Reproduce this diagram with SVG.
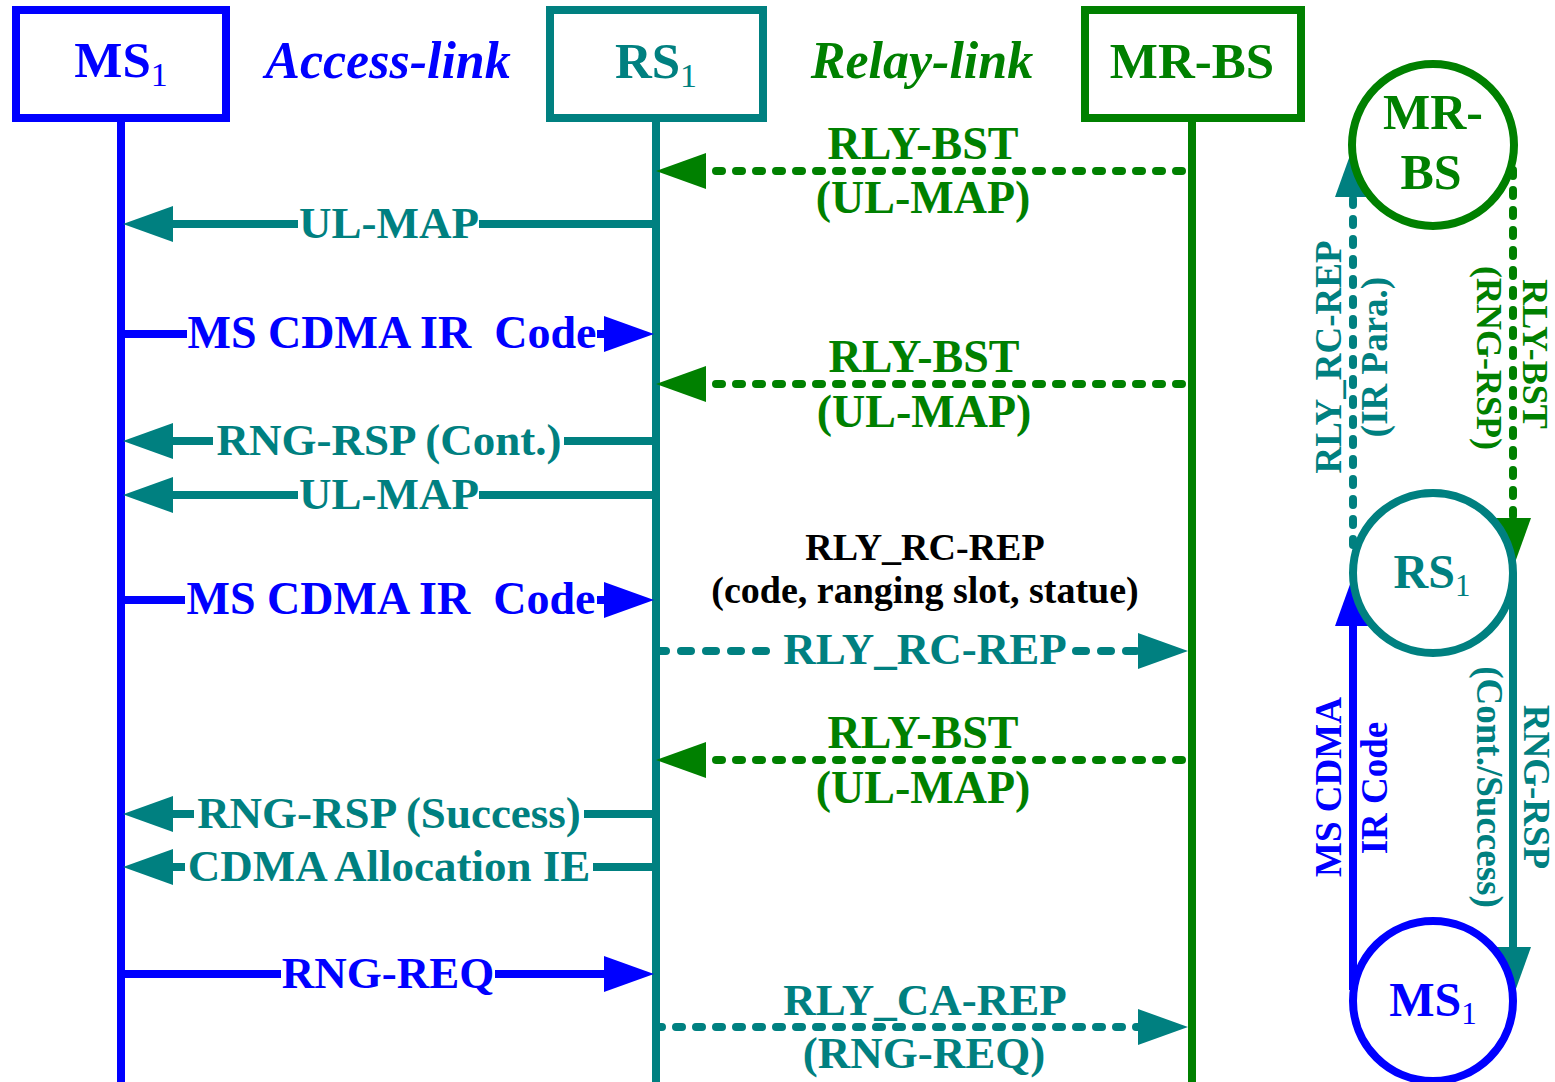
<svg xmlns="http://www.w3.org/2000/svg" width="1555" height="1082" viewBox="0 0 1555 1082">
<style>
text{font-family:"Liberation Serif","Times New Roman",serif;font-weight:bold;text-anchor:middle}
.b{fill:#0000FF}.t{fill:#008080}.g{fill:#008000}.k{fill:#000}
.reg{font-weight:normal}
.box{fill:#fff;stroke-width:8}
.life{stroke-width:8;fill:none}
.sb{stroke:#0000FF}.st{stroke:#008080}.sg{stroke:#008000}
.ln{stroke-width:8;fill:none}
.dot{stroke-width:8;fill:none;stroke-linecap:round;stroke-dasharray:6 14}
.dot2{stroke-width:8;fill:none;stroke-linecap:round;stroke-dasharray:10 15}
.circ{fill:#fff;stroke-width:8}
</style>
<defs>
<marker id="ab" viewBox="0 0 50 36" refX="0" refY="18" markerWidth="50" markerHeight="36" markerUnits="userSpaceOnUse" orient="auto"><path d="M0,0 L50,18 L0,36 z" fill="#0000FF"/></marker>
<marker id="at" viewBox="0 0 50 36" refX="0" refY="18" markerWidth="50" markerHeight="36" markerUnits="userSpaceOnUse" orient="auto"><path d="M0,0 L50,18 L0,36 z" fill="#008080"/></marker>
<marker id="ag" viewBox="0 0 50 36" refX="0" refY="18" markerWidth="50" markerHeight="36" markerUnits="userSpaceOnUse" orient="auto"><path d="M0,0 L50,18 L0,36 z" fill="#008000"/></marker>
</defs>

<g id="lifelines">
<line class="life sb" x1="121" y1="120" x2="121" y2="1082"/>
<line class="life st" x1="656" y1="120" x2="656" y2="1082"/>
<line class="life sg" x1="1192" y1="120" x2="1192" y2="1082"/>
</g>

<g id="node-ms1">
<rect class="box sb" x="16" y="10" width="210" height="108"/>
<text class="b" x="121" y="77" font-size="51">MS<tspan class="reg" font-size="34" dy="9">1</tspan></text>
</g>
<g id="node-rs1">
<rect class="box st" x="550" y="10" width="213" height="108"/>
<text class="t" x="656" y="78" font-size="51">RS<tspan class="reg" font-size="34" dy="9">1</tspan></text>
</g>
<g id="node-mrbs">
<rect class="box sg" x="1085" y="10" width="216" height="108"/>
<text class="g" x="1192" y="78" font-size="51">MR-BS</text>
</g>

<g id="titles">
<text class="b" x="388" y="78" font-size="52" font-style="italic">Access-link</text>
<text class="g" x="922" y="78" font-size="52" font-style="italic">Relay-link</text>
</g>

<g id="connectors">
<line class="dot sg" x1="1182" y1="171" x2="706" y2="171" marker-end="url(#ag)"/>
<line class="ln st" x1="656" y1="224" x2="479" y2="224"/>
<line class="ln st" x1="298" y1="224" x2="173" y2="224" marker-end="url(#at)"/>
<line class="ln sb" x1="121" y1="334" x2="187" y2="334"/>
<line class="ln sb" x1="597" y1="334" x2="604" y2="334" marker-end="url(#ab)"/>
<line class="dot sg" x1="1182" y1="384" x2="706" y2="384" marker-end="url(#ag)"/>
<line class="ln st" x1="656" y1="441" x2="564" y2="441"/>
<line class="ln st" x1="213" y1="441" x2="173" y2="441" marker-end="url(#at)"/>
<line class="ln st" x1="656" y1="495" x2="479" y2="495"/>
<line class="ln st" x1="298" y1="495" x2="173" y2="495" marker-end="url(#at)"/>
<line class="ln sb" x1="121" y1="600" x2="185" y2="600"/>
<line class="ln sb" x1="597" y1="600" x2="604" y2="600" marker-end="url(#ab)"/>
<line class="dot2 st" x1="656" y1="651" x2="774" y2="651"/>
<line class="dot2 st" x1="1076" y1="651" x2="1138" y2="651" marker-end="url(#at)"/>
<line class="dot sg" x1="1182" y1="760" x2="706" y2="760" marker-end="url(#ag)"/>
<line class="ln st" x1="656" y1="814" x2="584" y2="814"/>
<line class="ln st" x1="194" y1="814" x2="173" y2="814" marker-end="url(#at)"/>
<line class="ln st" x1="656" y1="867" x2="593" y2="867"/>
<line class="ln st" x1="185" y1="867" x2="173" y2="867" marker-end="url(#at)"/>
<line class="ln sb" x1="121" y1="974" x2="281" y2="974"/>
<line class="ln sb" x1="495" y1="974" x2="604" y2="974" marker-end="url(#ab)"/>
<line class="dot st" x1="656" y1="1027" x2="1138" y2="1027" marker-end="url(#at)"/>

<line class="dot st" x1="1353" y1="545" x2="1353" y2="197" marker-end="url(#at)"/>
<line class="dot sg" x1="1513" y1="170" x2="1513" y2="518" marker-end="url(#ag)"/>
<line class="ln sb" x1="1353" y1="990" x2="1353" y2="626" marker-end="url(#ab)"/>
<line class="ln st" x1="1513" y1="573" x2="1513" y2="947" marker-end="url(#at)"/>
</g>

<g id="labels">
<text class="g" x="923" y="159" font-size="46">RLY-BST</text>
<text class="g" x="923" y="213" font-size="46">(UL-MAP)</text>
<text class="t" x="389" y="238" font-size="45">UL-MAP</text>
<text class="b" x="392" y="348" font-size="46" xml:space="preserve">MS CDMA IR  Code</text>
<text class="g" x="924" y="372" font-size="46">RLY-BST</text>
<text class="g" x="924" y="427" font-size="46">(UL-MAP)</text>
<text class="t" x="389" y="455" font-size="45">RNG-RSP (Cont.)</text>
<text class="t" x="389" y="509" font-size="45">UL-MAP</text>
<text class="k" x="925" y="560" font-size="38">RLY_RC-REP</text>
<text class="k" x="925" y="603" font-size="38">(code, ranging slot, statue)</text>
<text class="b" x="391" y="614" font-size="46" xml:space="preserve">MS CDMA IR  Code</text>
<text class="t" x="925" y="664" font-size="45">RLY_RC-REP</text>
<text class="g" x="923" y="748" font-size="46">RLY-BST</text>
<text class="g" x="923" y="803" font-size="46">(UL-MAP)</text>
<text class="t" x="389" y="828" font-size="45">RNG-RSP (Success)</text>
<text class="t" x="389" y="881" font-size="45">CDMA Allocation IE</text>
<text class="b" x="388" y="988" font-size="45">RNG-REQ</text>
<text class="t" x="925" y="1015" font-size="45">RLY_CA-REP</text>
<text class="t" x="924" y="1068" font-size="45">(RNG-REQ)</text>

<text class="t" font-size="37" transform="translate(1341,357) rotate(-90)">RLY_RC-REP</text>
<text class="t" font-size="37" transform="translate(1387,357) rotate(-90)">(IR Para.)</text>
<text class="g" font-size="36" transform="translate(1523,354) rotate(90)">RLY-BST</text>
<text class="g" font-size="36" transform="translate(1477,358) rotate(90)">(RNG-RSP)</text>
<text class="b" font-size="37" transform="translate(1341,787) rotate(-90)">MS CDMA</text>
<text class="b" font-size="37" transform="translate(1387,788) rotate(-90)">IR Code</text>
<text class="t" font-size="37" transform="translate(1524,787) rotate(90)">RNG-RSP</text>
<text class="t" font-size="37" transform="translate(1477,787) rotate(90)">(Cont./Success)</text>
</g>

<g id="circle-mrbs">
<circle class="circ sg" cx="1433" cy="145" r="81"/>
<text class="g" x="1433" y="129" font-size="50">MR-</text>
<text class="g" x="1431" y="189" font-size="50">BS</text>
</g>
<g id="circle-rs1">
<circle class="circ st" cx="1433" cy="573" r="80"/>
<text class="t" x="1432" y="588" font-size="48">RS<tspan class="reg" font-size="31" dy="8">1</tspan></text>
</g>
<g id="circle-ms1">
<circle class="circ sb" cx="1433" cy="1001" r="80"/>
<text class="b" x="1433" y="1016" font-size="48">MS<tspan class="reg" font-size="31" dy="8">1</tspan></text>
</g>
</svg>
